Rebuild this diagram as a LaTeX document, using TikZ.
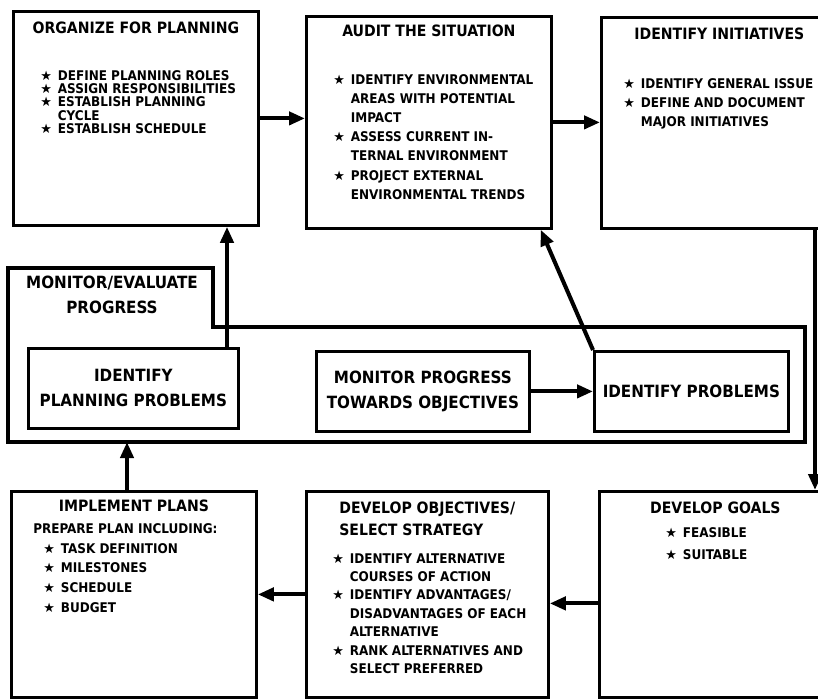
\documentclass[tikz,border=0pt]{standalone}
\usepackage{fontspec}
\setmainfont{DejaVu Sans Condensed}
\newfontfamily\starfont{DejaVu Sans}
\usetikzlibrary{positioning,arrows.meta}
\newcommand\bst{\makebox[10pt][l]{\starfont\fontsize{7.4}{7.4}\selectfont ★}}
\newcommand\nst{\hspace*{10pt}}
\begin{document}
\begin{tikzpicture}[x=0.02cm, y=-0.02cm,
	pbox/.style={draw, line width=1.6pt, inner sep=0pt, anchor=north west},
	mframe/.style={draw, line width=1.8pt, line join=miter},
	head/.style={inner sep=0pt, align=center, font=\bfseries\fontsize{8.9}{12}\selectfont},
	blist/.style={inner sep=0pt, align=left, anchor=north west, font=\bfseries\fontsize{7.6}{#1}\selectfont},
	blist/.default=10.5pt,
	mtext/.style={inner sep=0pt, align=center, font=\bfseries\fontsize{9.6}{14.2}\selectfont},
	arr/.style={line width=2.3pt, -{Triangle[length=0.32cm,width=0.26cm]}}]
	%\draw[help lines] (0,0) grid[step=50] (818,698);
	\clip (0,0) rectangle (818,698);
	
	% top row
	\node[pbox, minimum width=4.9cm, minimum height=4.28cm] (organize) at (12,10) {};
	\node[pbox, minimum width=4.9cm, minimum height=4.24cm] (audit) at (305,15) {};
	\node[pbox, minimum width=4.72cm, minimum height=4.22cm] (initiatives) at (600,16) {};
	
	\node[head, below=0.24cm of organize.north] (organizeT) {ORGANIZE FOR PLANNING};
	\node[blist=7.6pt, below right=1.2cm and 0.56cm of organize.north west] (organizeL)
		{\bst DEFINE PLANNING ROLES\\ \bst ASSIGN RESPONSIBILITIES\\ \bst ESTABLISH PLANNING\\
		\nst CYCLE\\ \bst ESTABLISH SCHEDULE};
	
	\node[head, below=0.2cm of audit.north] (auditT) {AUDIT THE SITUATION};
	\node[blist=10.9pt, below right=1.18cm and 0.56cm of audit.north west] (auditL)
		{\bst IDENTIFY ENVIRONMENTAL\\ \nst AREAS WITH POTENTIAL\\ \nst IMPACT\\
		\bst ASSESS CURRENT IN-\\ \nst TERNAL ENVIRONMENT\\ \bst PROJECT EXTERNAL\\
		\nst ENVIRONMENTAL TRENDS};
	
	\node[head, below=0.24cm of initiatives.north] (initiativesT) {IDENTIFY INITIATIVES};
	\node[blist=10.8pt, below right=1.24cm and 0.46cm of initiatives.north west] (initiativesL)
		{\bst IDENTIFY GENERAL ISSUE\\ \bst DEFINE AND DOCUMENT\\ \nst MAJOR INITIATIVES};
	
	% monitor/evaluate
	\draw[mframe] (8,268) -- (213,268) -- (213,327) -- (805,327) -- (805,442) -- (8,442) -- cycle;
	\coordinate (monbase) at (127,442);
	\node[mtext, anchor=north] (monitorT) at (112,276) {MONITOR/EVALUATE\\PROGRESS};
	
	\node[pbox, minimum width=4.2cm, minimum height=1.6cm] (planprob) at (27,347) {};
	\node[pbox, minimum width=4.26cm, minimum height=1.6cm] (progress) at (315,350) {};
	\node[pbox, minimum width=3.88cm, minimum height=1.6cm] (problems) at (593,350) {};
	\node[mtext] (planprobT) at (planprob) {IDENTIFY\\PLANNING PROBLEMS};
	\node[mtext] (progressT) at (progress) {MONITOR PROGRESS\\TOWARDS OBJECTIVES};
	\node[mtext] (problemsT) at (problems) {IDENTIFY PROBLEMS};
	
	% bottom row
	\node[pbox, minimum width=4.9cm, minimum height=4.12cm] (implement) at (10,490) {};
	\node[pbox, minimum width=4.84cm, minimum height=4.12cm] (objectives) at (305,490) {};
	\node[pbox, minimum width=4.64cm, minimum height=4.12cm] (goals) at (598,490) {};
	
	\node[head, below=0.2cm of implement.north] (implementT) {IMPLEMENT PLANS};
	\node[blist=11.3pt, below right=0.66cm and 0.46cm of implement.north west] (implementL)
		{PREPARE PLAN INCLUDING:\\ \hspace*{5.7pt}\bst TASK DEFINITION\\ \hspace*{5.7pt}\bst MILESTONES\\
		\hspace*{5.7pt}\bst SCHEDULE\\ \hspace*{5.7pt}\bst BUDGET};
	
	\node[head, align=left, anchor=north west, below right=0.24cm and 0.68cm of objectives.north west] (objectivesT)
		{DEVELOP OBJECTIVES/\\SELECT STRATEGY};
	\node[blist=10.5pt, below right=1.26cm and 0.54cm of objectives.north west] (objectivesL)
		{\bst IDENTIFY ALTERNATIVE\\ \nst COURSES OF ACTION\\ \bst IDENTIFY ADVANTAGES/\\
		\nst DISADVANTAGES OF EACH\\ \nst ALTERNATIVE\\ \bst RANK ALTERNATIVES AND\\ \nst SELECT PREFERRED};
	
	\node[head, below=0.24cm of goals.north] (goalsT) {DEVELOP GOALS};
	\node[blist=12.5pt, below right=0.74cm and 1.34cm of goals.north west] (goalsL)
		{\bst FEASIBLE\\ \bst SUITABLE};
	
	% connectors
	\coordinate (rightrun) at (815,0);
	\coordinate (upline) at (227,0);
	\draw[arr] (organize.east) -- (organize.east -| audit.west);
	\draw[arr] (audit.east) -- (audit.east -| initiatives.west);
	\draw[arr] (initiatives.south -| rightrun) -- (goals.north -| rightrun);
	\draw[arr] ([yshift=-0.18cm]goals.west) -- ([yshift=-0.18cm]goals.west -| objectives.east);
	\draw[arr] (objectives.west) -- (objectives.west -| implement.east);
	\draw[arr] (implement.north -| monbase) -- (monbase);
	\draw[arr] (planprob.north -| upline) -- (organize.south -| upline);
	\draw[arr] (progress.east) -- (progress.east -| problems.west);
	\draw[arr] (problems.north west) -- ([xshift=-0.24cm]audit.south east);
\end{tikzpicture}
\end{document}
